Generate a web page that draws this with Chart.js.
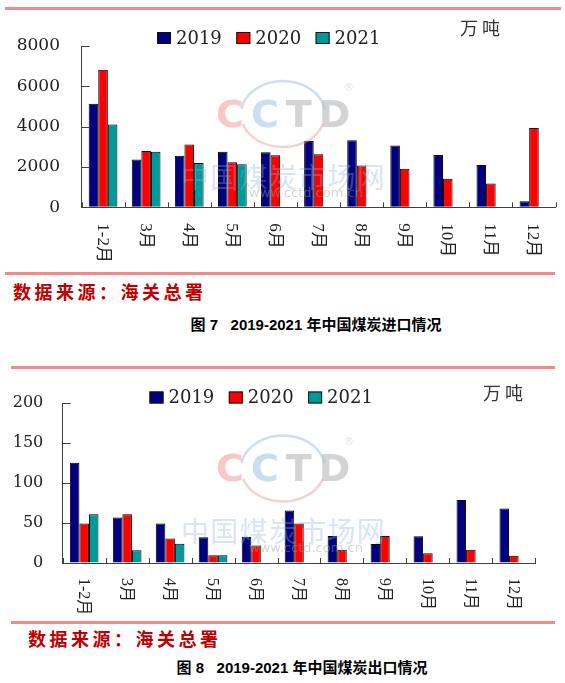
<!DOCTYPE html>
<html><head><meta charset="utf-8">
<script src="https://cdn.jsdelivr.net/npm/chart.js@4.4.0/dist/chart.umd.min.js"></script>
<style>
html,body{margin:0;padding:0;background:#fff;}
body{width:565px;height:683px;position:relative;overflow:hidden;font-family:"Noto Sans CJK SC",sans-serif;}
.line{position:absolute;height:3px;background:#f28a8c;}
.src{position:absolute;font-weight:bold;color:#c00000;font-size:18px;letter-spacing:3.5px;line-height:20px;white-space:nowrap;}
.cap{position:absolute;font-weight:bold;color:#000;font-size:15px;line-height:18px;white-space:nowrap;transform:translateX(-50%);font-family:"Liberation Sans","Noto Sans CJK SC",sans-serif;}
.box{position:absolute;left:0;width:565px;}
</style></head>
<body>
<div class="line" style="top:7px;left:5px;width:556px"></div>
<div class="box" style="top:12px;height:258px"><canvas id="c1"></canvas></div>
<div class="line" style="top:272px;left:5px;width:550px"></div>
<div class="src" style="left:13px;top:281px">数据来源：海关总署</div>
<div class="cap" style="left:316px;top:316px">图 7 &nbsp; 2019-2021 年中国煤炭进口情况</div>

<div class="line" style="top:366px;left:11px;width:544px"></div>
<div class="box" style="top:372px;height:248px"><canvas id="c2"></canvas></div>
<div class="line" style="top:621px;left:11px;width:544px"></div>
<div class="src" style="left:28px;top:628px">数据来源：海关总署</div>
<div class="cap" style="left:302px;top:659px">图 8 &nbsp; 2019-2021 年中国煤炭出口情况</div>

<script>
// ---- data ----
const categories = ['1-2月','3月','4月','5月','6月','7月','8月','9月','10月','11月','12月'];
const seriesNames = ['2019','2020','2021'];
const import2019 = [5140, 2370, 2560, 2760, 2730, 3290, 3320, 3060, 2600, 2100, 300];
const import2020 = [6820, 2790, 3120, 2230, 2580, 2630, 2070, 1910, 1410, 1180, 3930];
const import2021 = [4110, 2760, 2200, 2140, null, null, null, null, null, null, null];
const export2019 = [125.5, 57, 49.5, 32.2, 33, 65.7, 33.9, 23.8, 33.6, 79, 68.2];
const export2020 = [49.5, 61.2, 30.7, 9.6, 22, 49.5, 16.7, 33.9, 12.1, 16.7, 9];
const export2021 = [61.2, 16, 24, 9.6, null, null, null, null, null, null, null];
const importTicks = [0, 2000, 4000, 6000, 8000];
const exportTicks = [0, 50, 100, 150, 200];
const colors = ['#000080', '#ff0000', '#009999'];

function decor(cfg){
  return {
    id: 'decor',
    afterDraw(chart){
      const ctx = chart.ctx, xs = chart.scales.x, ys = chart.scales.y, a = chart.chartArea;
      ctx.save();
      // watermark
      const cx = 283, cy = cfg.wmY;
      ctx.globalAlpha = 0.5;
      ctx.lineWidth = 2.5;
      ctx.strokeStyle = '#9dbde4';
      ctx.beginPath(); ctx.ellipse(cx, cy, 42, 33, 0, Math.PI*1.05, Math.PI*1.95); ctx.stroke();
      ctx.strokeStyle = '#f2a0a0';
      ctx.beginPath(); ctx.ellipse(cx, cy, 42, 33, 0, Math.PI*0.1, Math.PI*0.9); ctx.stroke();
      ctx.globalAlpha = 0.6;
      ctx.font = 'bold 38px "DejaVu Sans"';
      ctx.textBaseline = 'middle'; ctx.textAlign = 'left';
      const letters = ['C','C','T','D'], lc = ['#f3a3a3','#a9c6e8','#b8b8b8','#b8b8b8'];
      let lx = 216;
      letters.forEach((l,i)=>{ ctx.fillStyle = lc[i]; ctx.fillText(l, lx, cy+3); lx += ctx.measureText(l).width + 7; });
      ctx.font = '10px "DejaVu Sans"'; ctx.fillStyle = '#c8c8c8';
      ctx.fillText('®', 344, cy-26);
      ctx.globalAlpha = 0.35;
      ctx.font = '28px "Noto Sans CJK SC"'; ctx.fillStyle = '#8fb0e0';
      const cn = '中国煤炭市场网'; let cxp = 181;
      for (const ch of cn){ ctx.fillText(ch, cxp, cy+63); cxp += 29.3; }
      ctx.globalAlpha = 0.45;
      ctx.font = '13px "DejaVu Sans"'; ctx.fillStyle = '#a0a0a0';
      ctx.fillText('www.cctd.com.cn', 249, cy+80);
      ctx.globalAlpha = 1;

      // inward y ticks
      ctx.strokeStyle = '#404040'; ctx.lineWidth = 1;
      ys.ticks.forEach(t=>{
        const py = Math.round(ys.getPixelForValue(t.value)) + 0.5;
        ctx.beginPath(); ctx.moveTo(a.left, py); ctx.lineTo(a.left + 8, py); ctx.stroke();
      });
      // inward x ticks at category boundaries
      const n = xs.ticks.length;
      for (let i = 0; i <= n; i++){
        let px;
        if (i === 0) px = xs.left; else if (i === n) px = xs.right;
        else px = (xs.getPixelForTick(i-1) + xs.getPixelForTick(i)) / 2;
        px = Math.round(px) + 0.5;
        ctx.beginPath(); ctx.moveTo(px, a.bottom); ctx.lineTo(px, a.bottom - 5); ctx.stroke();
      }
      // rotated category labels
      ctx.fillStyle = '#222'; ctx.font = cfg.xFont;
      ctx.textAlign = 'left'; ctx.textBaseline = 'middle';
      xs.ticks.forEach((t,i)=>{
        const px = xs.getPixelForTick(i) - 1;
        ctx.save(); ctx.translate(px, a.bottom + cfg.xGap); ctx.rotate(Math.PI/2);
        ctx.fillText(chart.data.labels[i], 0, 0); ctx.restore();
      });
      // legend
      let gx = cfg.legendX; const gy = cfg.legendY;
      ctx.font = '18px "DejaVu Serif"';
      chart.data.datasets.forEach(ds=>{
        ctx.fillStyle = ds.backgroundColor; ctx.fillRect(gx, gy-6, 14, 12);
        ctx.strokeStyle = '#111'; ctx.strokeRect(gx+0.5, gy-5.5, 13, 11);
        ctx.fillStyle = '#222'; ctx.fillText(ds.label, gx + 19, gy + 1);
        gx += 19 + ctx.measureText(ds.label).width + 14.5;
      });
      // unit
      ctx.font = '18px "Noto Sans CJK SC"'; ctx.fillStyle = '#333';
      ctx.fillText('万', cfg.unitX, cfg.unitY);
      ctx.fillText('吨', cfg.unitX + 22, cfg.unitY);
      ctx.restore();
    }
  };
}

function makeChart(id, d19, d20, d21, ticks, cfg){
  const maxV = ticks[ticks.length-1], step = ticks[1]-ticks[0];
  return new Chart(document.getElementById(id), {
    type: 'bar',
    data: {
      labels: categories,
      datasets: [d19, d20, d21].map((d,i)=>({
        label: seriesNames[i], data: d, backgroundColor: colors[i],
        borderColor: '#000', borderWidth: 1,
        categoryPercentage: 0.667, barPercentage: 1.0
      }))
    },
    options: {
      responsive: true, maintainAspectRatio: false, animation: false,
      layout: { padding: { top: cfg.padTop, right: cfg.padRight, left: 0, bottom: 0 } },
      plugins: { legend: { display: false }, tooltip: { enabled: false } },
      scales: {
        x: {
          grid: { display: true, drawOnChartArea: false, drawTicks: false },
          border: { display: true, color: '#404040', width: 1 },
          ticks: { display: false },
          afterFit(s){ s.height = cfg.xHeight; }
        },
        y: {
          min: 0, max: maxV,
          grid: { display: true, drawOnChartArea: false, drawTicks: false },
          border: { display: true, color: '#404040', width: 1 },
          ticks: { stepSize: step, padding: cfg.yPad, color: '#222',
                   callback: v => String(v),
                   font: { family: 'DejaVu Serif', size: cfg.yFont } },
          afterFit(s){ s.width = cfg.yWidth; }
        }
      }
    },
    plugins: [decor(cfg)]
  });
}

makeChart('c1', import2019, import2020, import2021, importTicks, {
  padTop: 34, padRight: 9.5, xHeight: 62.7, yWidth: 81.5, yPad: 21.5, yFont: 17,
  xFont: '17px "Liberation Serif", "Noto Sans CJK SC"', xGap: 16,
  legendX: 157, legendY: 26, unitX: 460, unitY: 16, wmY: 102
});
makeChart('c2', export2019, export2020, export2021, exportTicks, {
  padTop: 31.3, padRight: 29.7, xHeight: 57, yWidth: 62.7, yPad: 19.4, yFont: 16,
  xFont: '16px "Liberation Serif", "Noto Sans CJK SC"', xGap: 15,
  legendX: 149.5, legendY: 25.5, unitX: 483, unitY: 21, wmY: 96.5
});
</script>
</body></html>
